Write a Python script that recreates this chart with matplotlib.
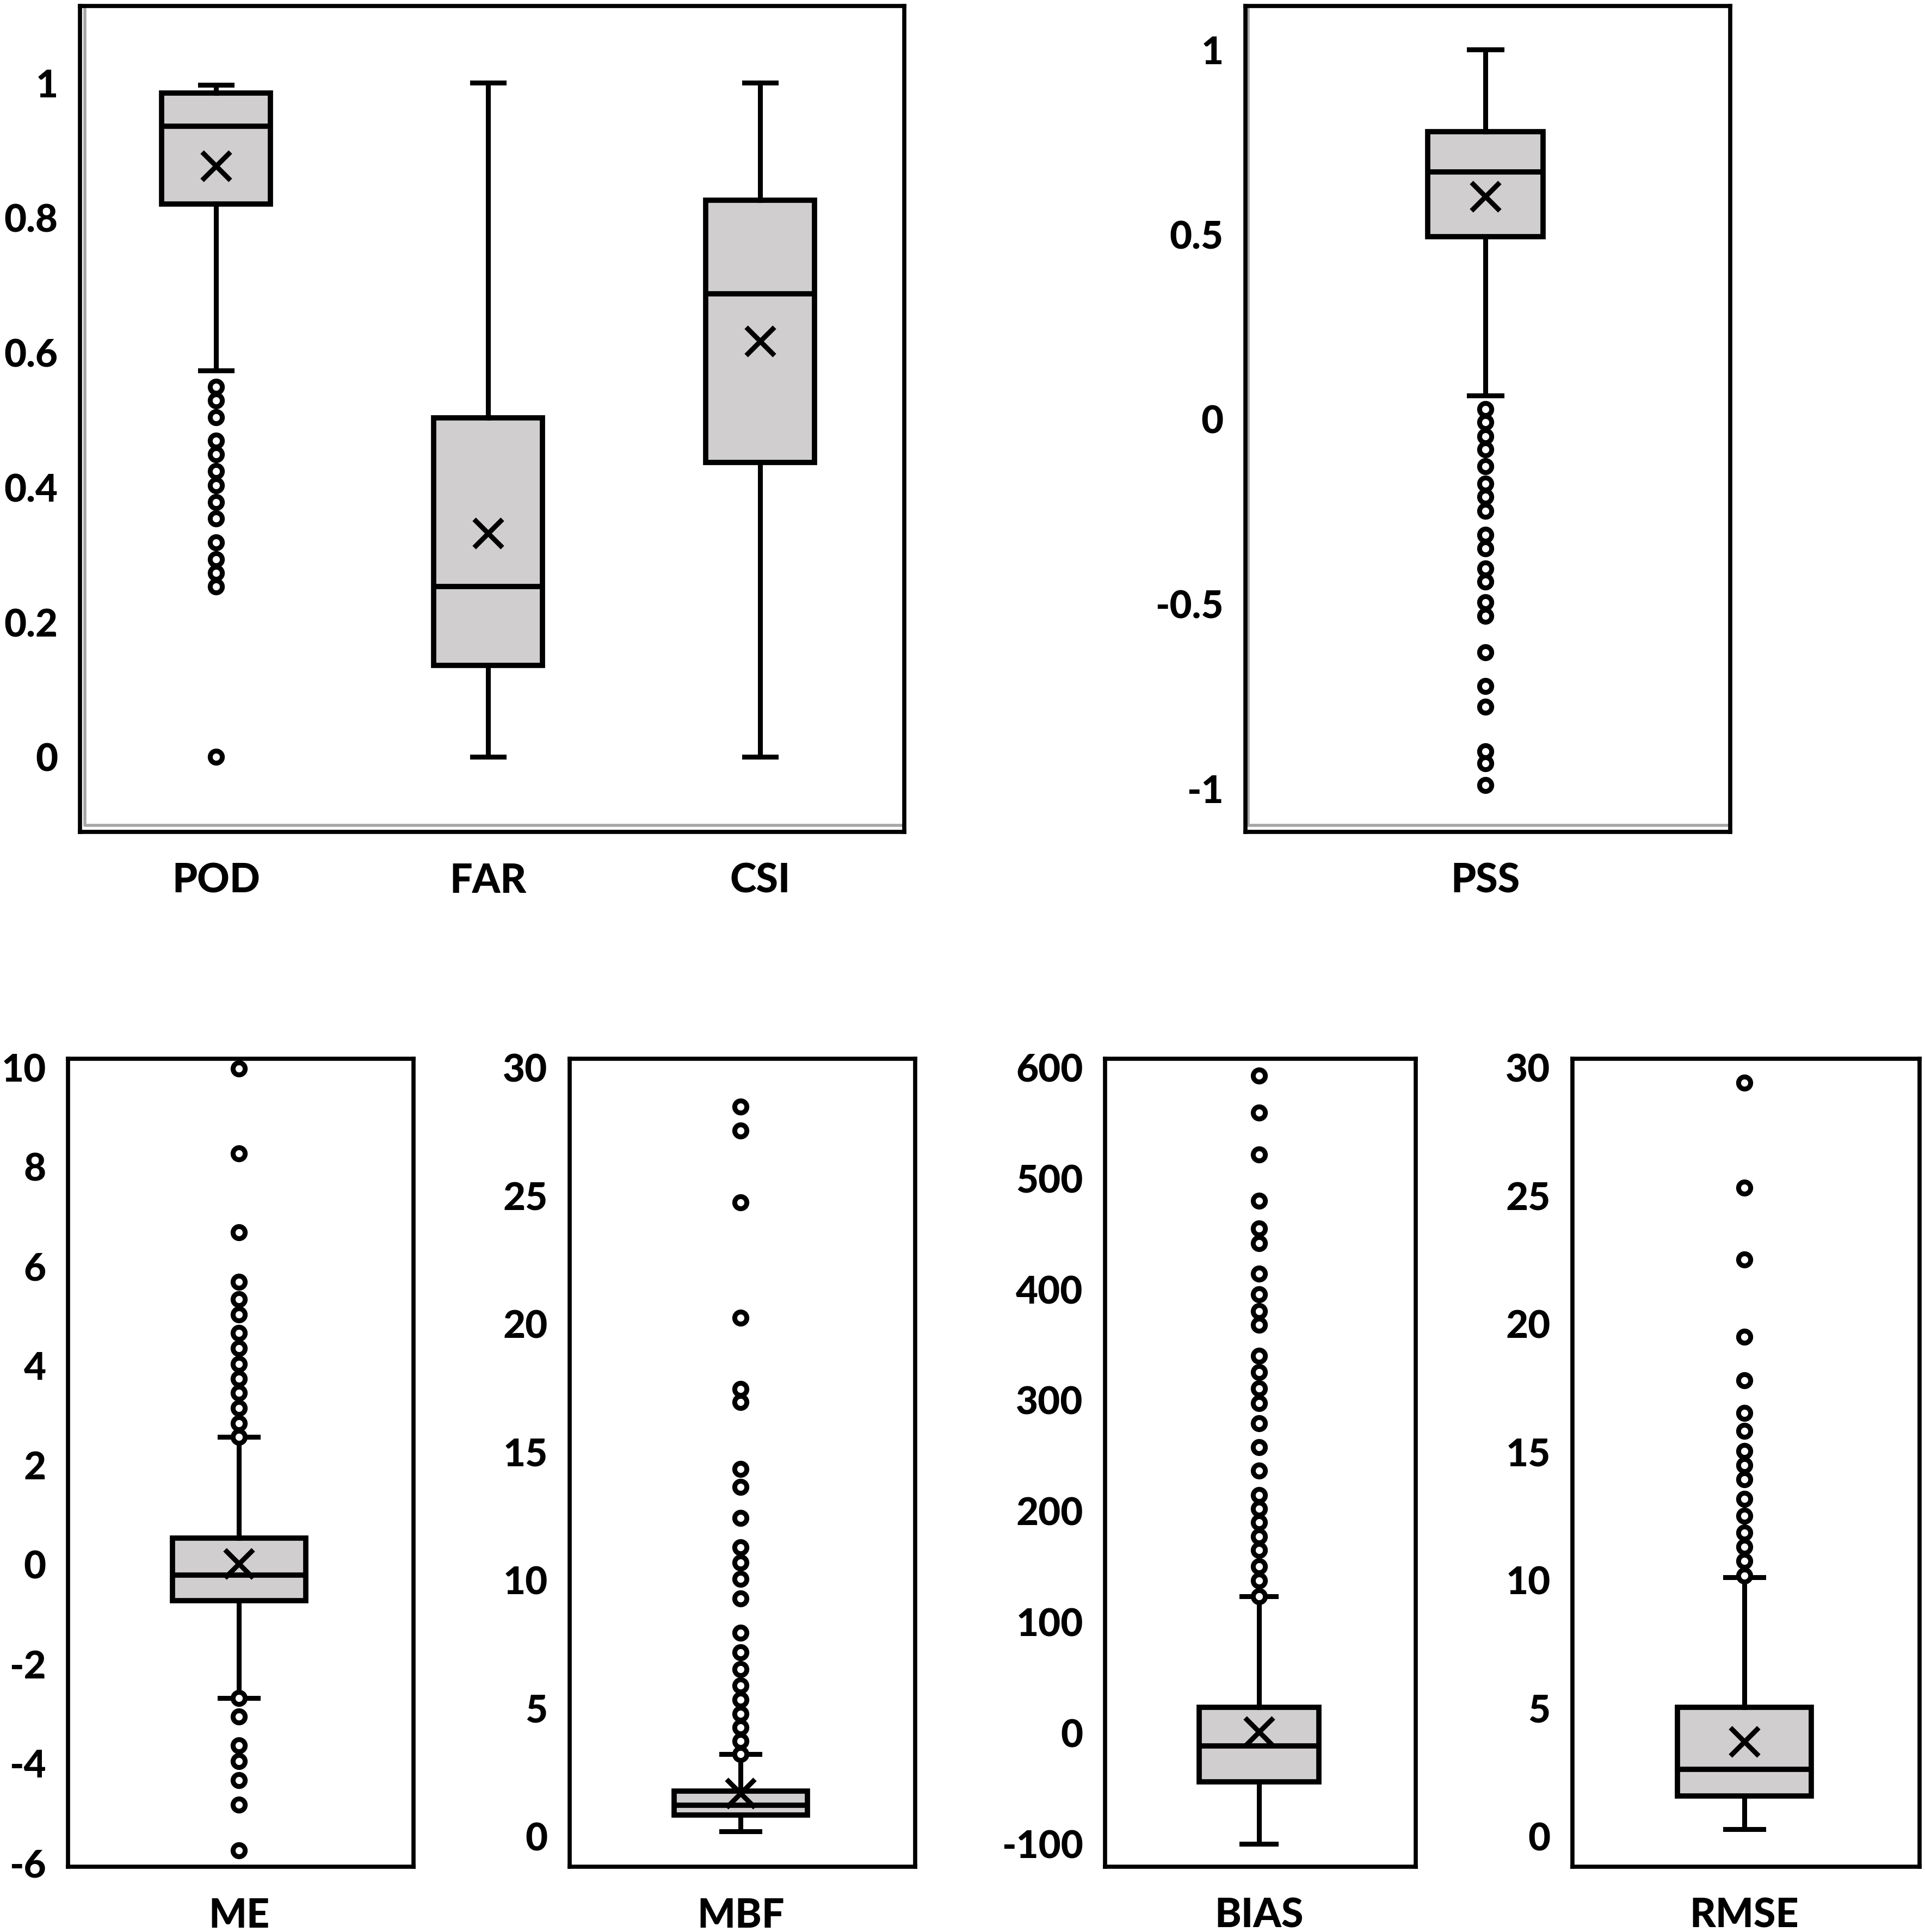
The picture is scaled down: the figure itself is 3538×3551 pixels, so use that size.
import matplotlib
matplotlib.use("Agg")
import matplotlib.pyplot as plt

plt.rcParams['font.family'] = ['Lato', 'DejaVu Sans']
plt.rcParams['font.weight'] = 'black'

# ---- data (box stats per metric) ----
cat_labels = ['POD', 'FAR', 'CSI']
cat_whislo = [0.573, 0.0, 0.0]
cat_q1 = [0.820, 0.136, 0.437]
cat_med = [0.936, 0.253, 0.687]
cat_q3 = [0.985, 0.503, 0.826]
cat_whishi = [0.997, 1.0, 1.0]
cat_mean = [0.877, 0.332, 0.617]
cat_fliers = [
    [0.549, 0.529, 0.504, 0.469, 0.449, 0.424, 0.403, 0.378, 0.354,
     0.318, 0.293, 0.273, 0.253, 0.0],
    [],
    [],
]

pss_stats = dict(whislo=0.064, q1=0.494, med=0.669, q3=0.778, whishi=1.0, mean=0.602)
pss_fliers = [0.027, -0.009, -0.046, -0.082, -0.128, -0.174, -0.210, -0.249,
              -0.313, -0.350, -0.404, -0.440, -0.496, -0.533, -0.631, -0.723,
              -0.778, -0.899, -0.931, -0.990]

me_stats = dict(whislo=-2.69, q1=-0.73, med=-0.21, q3=0.53, whishi=2.57, mean=0.01)
me_fliers = [9.97, 8.27, 6.68, 5.68, 5.33, 5.03, 4.66, 4.35, 4.03, 3.74, 3.45,
             3.14, 2.84, 2.57, -2.69, -3.06, -3.64, -3.96, -4.34, -4.83, -5.75]

mbf_stats = dict(whislo=0.19, q1=0.82, med=1.20, q3=1.76, whishi=3.20, mean=1.68)
mbf_fliers = [28.48, 27.54, 24.74, 20.24, 17.46, 16.95, 14.33, 13.63, 12.42,
              11.28, 10.68, 10.05, 9.27, 7.95, 7.17, 6.52, 5.87, 5.32, 4.78,
              4.24, 3.72, 3.20]

bias_stats = dict(whislo=-100, q1=-44, med=-12, q3=23, whishi=123, mean=1)
bias_fliers = [592.8, 559.1, 521.6, 479.6, 454.9, 441.4, 414.2, 395.6, 380.2,
               367.7, 340.1, 325.0, 310.6, 297.1, 279.2, 257.7, 236.2, 214.4,
               202.2, 189.7, 177.2, 164.7, 150.2, 137.4, 123.0]

rmse_stats = dict(whislo=0.27, q1=1.57, med=2.62, q3=5.04, whishi=10.1, mean=3.69)
rmse_fliers = [29.4, 25.3, 22.5, 19.5, 17.8, 16.51, 15.81, 15.03, 14.47, 13.93,
               13.16, 12.50, 11.84, 11.30, 10.75, 10.16]

W, H = 3538, 3551
fig = plt.figure(figsize=(W / 100, H / 100), dpi=100)
fig.patch.set_facecolor('white')

def add_ax(x0, x1, y0, y1):
    # pixel box -> figure fraction
    return fig.add_axes([x0 / W, 1 - y1 / H, (x1 - x0) / W, (y1 - y0) / H])

FILL = '#d0cece'
box_kw = dict(
    showmeans=True,
    patch_artist=True,
    boxprops=dict(facecolor=FILL, edgecolor='black', linewidth=7),
    medianprops=dict(color='black', linewidth=7),
    whiskerprops=dict(color='black', linewidth=6.5),
    capprops=dict(color='black', linewidth=6.5),
    meanprops=dict(marker='x', markeredgecolor='black', markersize=38,
                   markeredgewidth=6.5),
    flierprops=dict(marker='o', markerfacecolor='white', markeredgecolor='black',
                    markersize=16, markeredgewidth=6.5),
)

def style(ax, yticks, ylabels, ylim, xlim):
    ax.set_ylim(*ylim)
    ax.set_xlim(*xlim)
    ax.set_yticks(yticks)
    ax.set_yticklabels(ylabels)
    ax.tick_params(axis='y', length=0, pad=29, labelsize=51)
    ax.tick_params(axis='x', length=0, pad=40, labelsize=53)
    for s in ax.spines.values():
        s.set_linewidth(5.5)
        s.set_color('black')

def make_stats(label, st, fl):
    d = dict(st)
    d['label'] = label
    d['fliers'] = fl
    return d

# ---- top left: POD / FAR / CSI ----
ax1 = add_ax(147, 1662, 11, 1529)
stats1 = []
for i, lab in enumerate(cat_labels):
    stats1.append(dict(label=lab, whislo=cat_whislo[i], q1=cat_q1[i], med=cat_med[i],
                       q3=cat_q3[i], whishi=cat_whishi[i], mean=cat_mean[i],
                       fliers=cat_fliers[i]))
ax1.bxp(stats1, positions=[1, 2, 3], widths=0.40, capwidths=0.116, **box_kw)
style(ax1, [0, 0.2, 0.4, 0.6, 0.8, 1.0], ['0', '0.2', '0.4', '0.6', '0.8', '1'],
      (-0.111, 1.114), (0.5, 3.53))

# ---- top right: PSS ----
ax2 = add_ax(2289, 3180, 11, 1529)
ax2.bxp([make_stats('PSS', pss_stats, pss_fliers)], positions=[0.995],
        widths=0.238, capwidths=0.067, **box_kw)
style(ax2, [-1, -0.5, 0, 0.5, 1], ['-1', '-0.5', '0', '0.5', '1'],
      (-1.117, 1.118), (0.5, 1.5))

# soft grey inner edge on the top panels (left + bottom), as in the source image
for ax in (ax1, ax2):
    ax.plot([0.006, 0.006, 1.0], [1.0, 0.008, 0.008], transform=ax.transAxes,
            color='#a6a6a6', lw=4, clip_on=False, zorder=0.5)

# ---- bottom row ----
bottom = [
    ('ME', me_stats, me_fliers, (125, 760), list(range(-6, 11, 2)), (-6.08, 10.17)),
    ('MBF', mbf_stats, mbf_fliers, (1047, 1682), list(range(0, 31, 5)), (-1.19, 30.34)),
    ('BIAS', bias_stats, bias_fliers, (2031, 2602), list(range(-100, 601, 100)), (-120.7, 607.8)),
    ('RMSE', rmse_stats, rmse_fliers, (2890, 3528), list(range(0, 31, 5)), (-1.19, 30.34)),
]
for lab, st, fl, (x0, x1), ticks, ylim in bottom:
    ax = add_ax(x0, x1, 1946, 3431)
    ax.bxp([make_stats(lab, st, fl)], positions=[0.995], widths=0.385,
           capwidths=0.11, **box_kw)
    style(ax, ticks, [str(t) for t in ticks], ylim, (0.5, 1.5))

fig.savefig('out.png', dpi=100, facecolor='white')
